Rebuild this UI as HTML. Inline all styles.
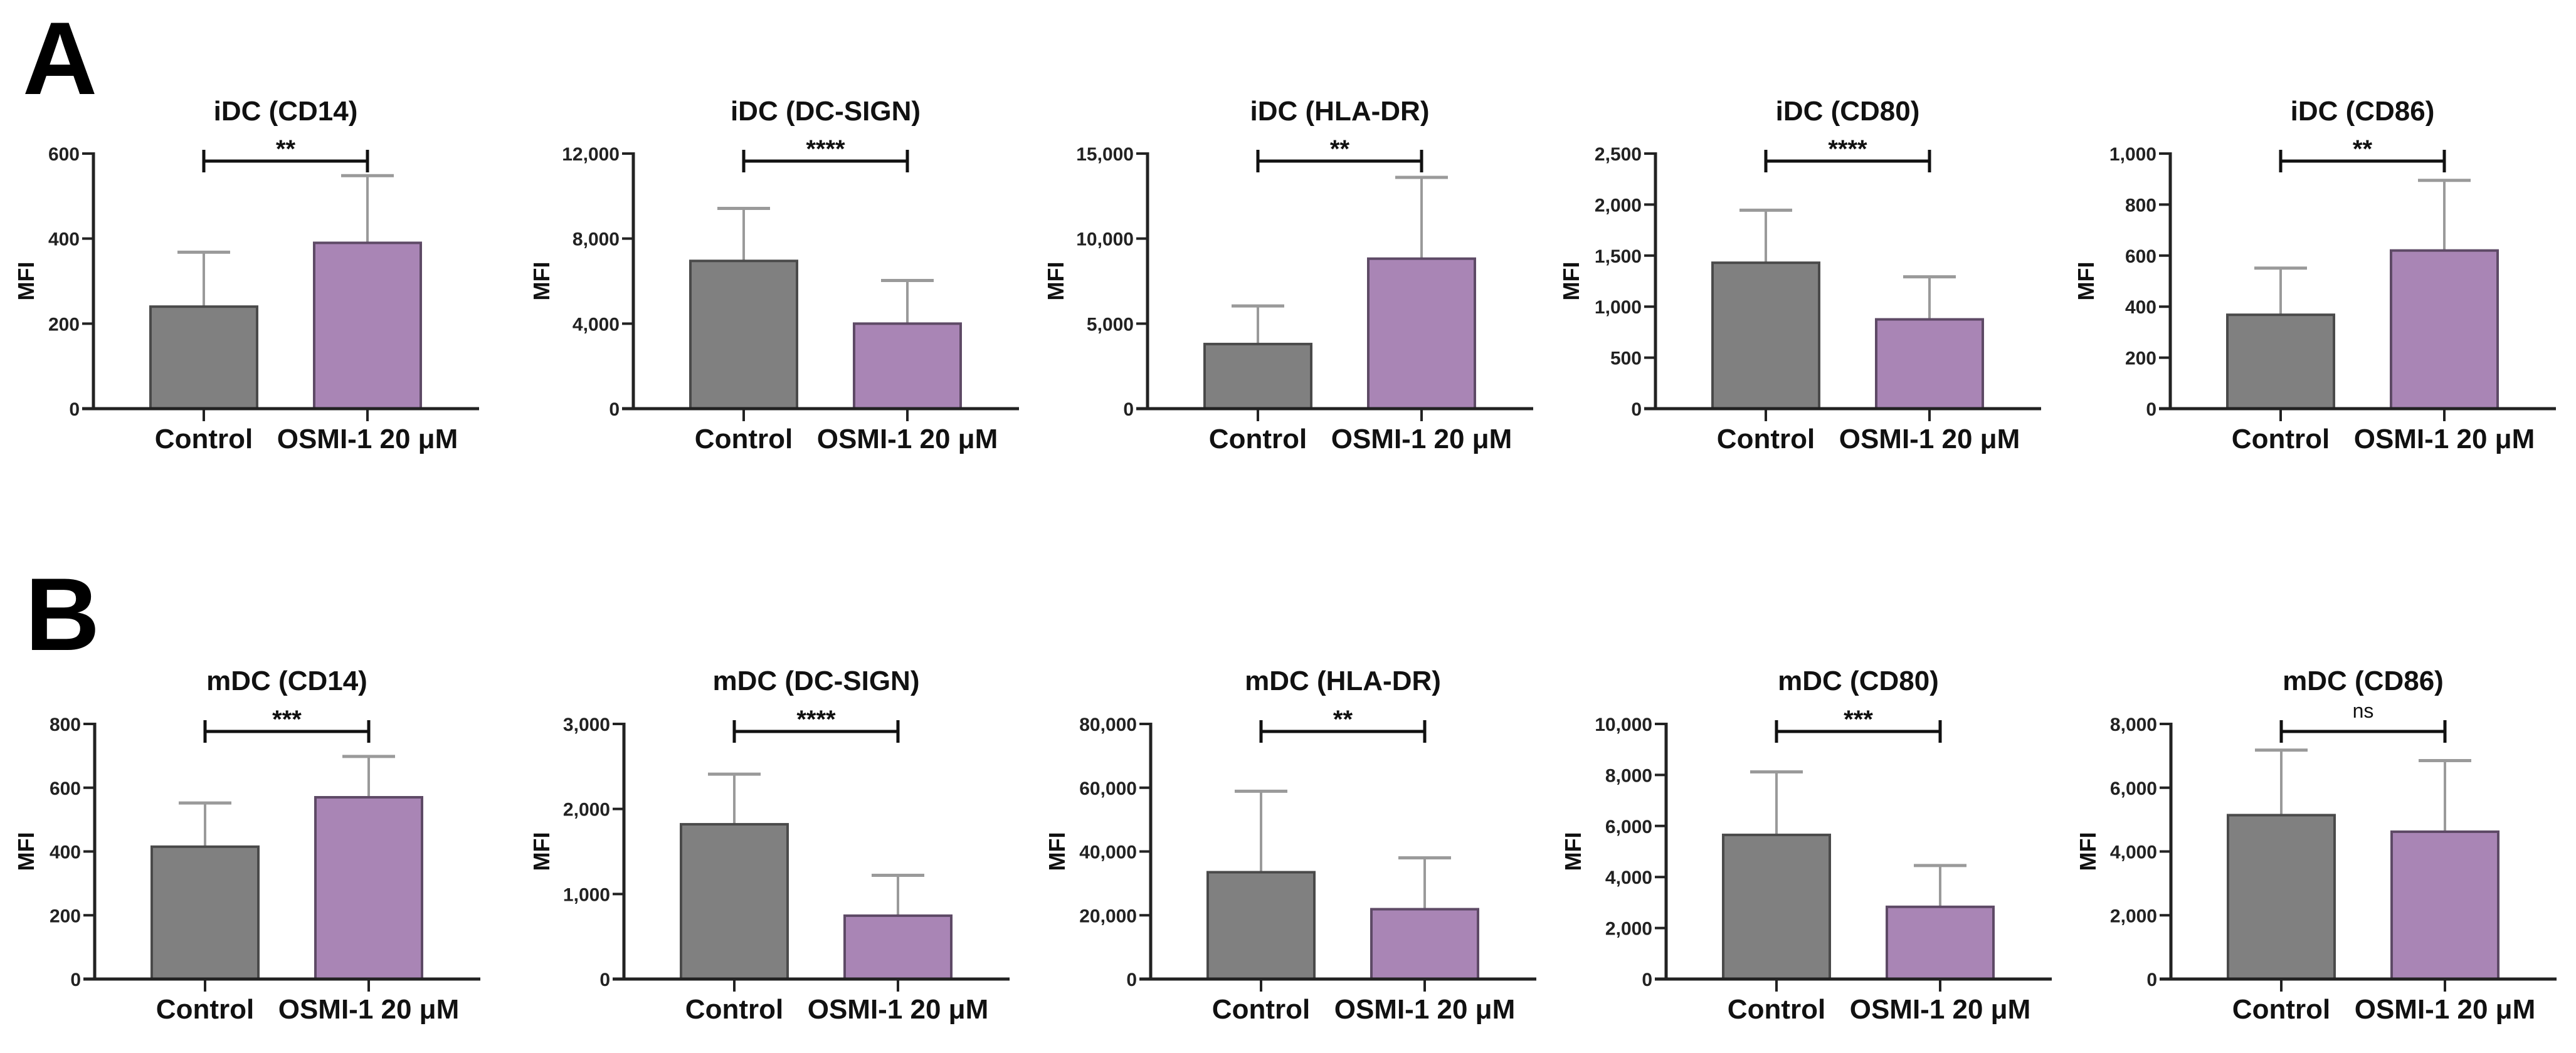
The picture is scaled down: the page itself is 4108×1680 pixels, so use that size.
<!DOCTYPE html>
<html><head><meta charset="utf-8"><style>
html,body{margin:0;padding:0;background:#fff;}
svg{display:block;font-family:"Liberation Sans",Arial,sans-serif;}
</style></head><body>
<svg id="fig" width="4108" height="1680" viewBox="0 0 4108 1680" xmlns="http://www.w3.org/2000/svg">
<text x="36" y="150" font-size="165" font-weight="bold">A</text>
<text x="40" y="1037" font-size="165" font-weight="bold">B</text>
</svg>
<script>
const titles = ["iDC (CD14)","iDC (DC-SIGN)","iDC (HLA-DR)","iDC (CD80)","iDC (CD86)","mDC (CD14)","mDC (DC-SIGN)","mDC (HLA-DR)","mDC (CD80)","mDC (CD86)"];
const categories = ["Control","OSMI-1 20 \u03bcM"];
const controlMeans = [240,6950,3800,1430,368,415,1820,33500,5650,5140];
const controlErr = [368,9420,6040,1945,551,552,2409,58900,8120,7180];
const osmiMeans = [390,4000,8820,875,620,570,745,21900,2830,4620];
const osmiErr = [548,6030,13600,1292,895,698,1220,38000,4450,6850];
const yMax = [600,12000,15000,2500,1000,800,3000,80000,10000,8000];
const yStep = [200,4000,5000,500,200,200,1000,20000,2000,2000];
const sigLabels = ["**","****","**","****","**","***","****","**","***","ns"];

const axisX = [149,1010,1830,2640,3461,151,995,1835,2657,3462];
const mfiX = [41,863,1683,2505,3326,41,863,1685,2508,3329];
const NS='http://www.w3.org/2000/svg';
const svg=document.getElementById('fig');
function el(tag,attrs,parent){const e=document.createElementNS(NS,tag);for(const k in attrs)e.setAttribute(k,attrs[k]);(parent||svg).appendChild(e);return e;}
function fmt(v){return v.toLocaleString('en-US');}

for(let i=0;i<10;i++){
  const row=i<5?0:1;
  const top=row?1155:245, zero=row?1562:652;
  const ax=axisX[i];
  const g=el('g',{});
  
  
  const y=v=>zero-(v/yMax[i])*(zero-top);
  const cx=[ax+176,ax+437];
  const bw=170;
  const t=el('text',{x:(cx[0]+cx[1])/2,y:(row?1086:177)+15,'font-size':44,'font-weight':'bold','text-anchor':'middle',fill:'#111'},g);
  
  
  t.textContent=titles[i];
  for(let v=0;v<=yMax[i];v+=yStep[i]){
    const tk=el('line',{x1:ax-18,x2:ax,y1:y(v),y2:y(v),stroke:'#222','stroke-width':4},g);
    
    
    const tl=el('text',{x:ax-22,y:y(v)+11,'font-size':30,'font-weight':'bold','text-anchor':'end',fill:'#222'},g);
    
    
    tl.textContent=fmt(v);
  }
  const yt=el('text',{x:mfiX[i],y:(top+zero)/2,'font-size':36,'font-weight':'bold','text-anchor':'middle',transform:`rotate(-90 ${mfiX[i]} ${(top+zero)/2})`,dy:13,fill:'#111'},g);
  
  
  yt.textContent='MFI';
  const means=[controlMeans[i],osmiMeans[i]], errs=[controlErr[i],osmiErr[i]];
  const fills=['#808080','#a985b5'], strokes=['#4a4a4a','#5e4a66'];
  for(let k=0;k<2;k++){
    const e1=el('line',{x1:cx[k],x2:cx[k],y1:y(means[k]),y2:y(errs[k]),stroke:'#9a9a9a','stroke-width':4},g);
    
    
    const e2=el('line',{x1:cx[k]-42,x2:cx[k]+42,y1:y(errs[k]),y2:y(errs[k]),stroke:'#9a9a9a','stroke-width':5},g);
    
    
    const b=el('rect',{x:cx[k]-bw/2,y:y(means[k]),width:bw,height:zero-y(means[k]),fill:fills[k],stroke:strokes[k],'stroke-width':4},g);
    
    
    const xt=el('line',{x1:cx[k],x2:cx[k],y1:zero,y2:zero+20,stroke:'#222','stroke-width':4},g);
    
    
    const xl=el('text',{x:cx[k],y:zero+63,'font-size':44,'font-weight':'bold','text-anchor':'middle',fill:'#111'},g);
    
    
    xl.textContent=categories[k];
  }
  const ya=el('line',{x1:ax,x2:ax,y1:top-2,y2:zero+2,stroke:'#222','stroke-width':5},g);
  
  
  const xa=el('line',{x1:ax-18,x2:ax+615,y1:zero,y2:zero,stroke:'#222','stroke-width':5},g);
  
  
  const sy=row?1167:257;
  const s1=el('path',{d:`M${cx[0]} ${sy-18}V${sy+18}M${cx[0]} ${sy}H${cx[1]}M${cx[1]} ${sy-18}V${sy+18}`,stroke:'#111','stroke-width':5,fill:'none'},g);
  
  
  const ns=sigLabels[i]==='ns';
  const st=el('text',{x:(cx[0]+cx[1])/2,y:ns?sy-22:sy-6,'font-size':ns?32:40,'font-weight':ns?'normal':'bold','text-anchor':'middle',fill:'#111'},g);
  
  
  st.textContent=sigLabels[i];
}
</script>
</body></html>
